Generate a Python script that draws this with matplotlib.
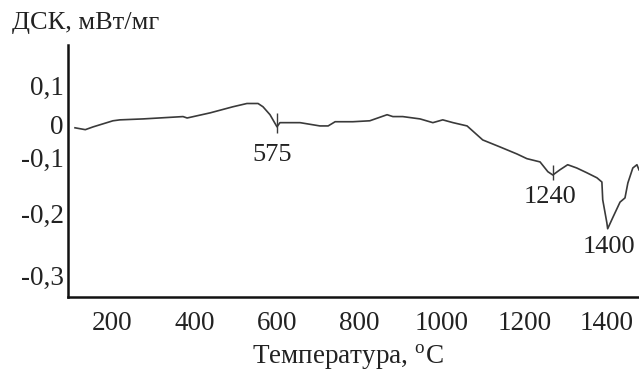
import matplotlib
matplotlib.use("Agg")
from matplotlib import pyplot as plt

# DSC curve (temperature, degC ; signal, mW/mg)
temp = [110, 135, 154, 202, 219, 275, 372, 382, 438, 493, 527, 554, 566, 583,
        600, 607, 624, 656, 704, 724, 741, 784, 825, 867, 881, 905, 947, 978,
        1002, 1027, 1061, 1099, 1141, 1182, 1206, 1238, 1257, 1269, 1286, 1305,
        1327, 1351, 1376, 1388, 1390, 1400, 1402, 1415, 1432, 1444, 1451, 1463,
        1473, 1478]
dsc = [-0.008, -0.012, -0.006, 0.007, 0.009, 0.011, 0.016, 0.013, 0.024, 0.037,
       0.044, 0.044, 0.037, 0.020, -0.006, 0.003, 0.003, 0.003, -0.004, -0.004,
       0.005, 0.005, 0.007, 0.020, 0.016, 0.016, 0.011, 0.003, 0.009, 0.003,
       -0.004, -0.034, -0.049, -0.064, -0.074, -0.081, -0.102, -0.109, -0.098,
       -0.087, -0.094, -0.104, -0.115, -0.124, -0.162, -0.211, -0.224, -0.199,
       -0.167, -0.158, -0.126, -0.094, -0.087, -0.098]

# peak labels and marker strokes
peak_labels = ["575", "1240", "1400"]
peak_label_t = [588, 1262, 1405]
peak_label_v = [-0.066, -0.156, -0.263]
mark_t = [600, 1269]
mark_top = [0.024, -0.087]
mark_bot = [-0.019, -0.119]

xticks = [200, 400, 600, 800, 1000, 1200, 1400]
# the printed y labels sit a little unevenly on the original scan
yticks = [0.082, 0, -0.071, -0.191, -0.324]
ytick_labels = ["0,1", "0", "-0,1", "-0,2", "-0,3"]

plt.rcParams['font.family'] = ['Liberation Serif', 'DejaVu Serif']
plt.rcParams['mathtext.fontset'] = 'custom'
plt.rcParams['mathtext.rm'] = 'Liberation Serif'

fig = plt.figure(figsize=(6.39, 3.71), dpi=100)
ax = fig.add_axes([0.1064, 0.1995, 0.8936, 0.679])

ax.plot(temp, dsc, color='#3a3a3a', lw=1.2)
ax.vlines(mark_t, mark_bot, mark_top, color='#3a3a3a', lw=1.0)
for lab, t, v in zip(peak_labels, peak_label_t, peak_label_v):
	ax.text(t, v, lab, ha='center', va='center', fontsize=19, color='#222222')

ax.set_xlim(93, 1478)
ax.set_ylim(-0.370, 0.169)
ax.set_xticks(xticks)
ax.set_yticks(yticks)
ax.set_yticklabels(ytick_labels)
ax.tick_params(length=0, labelsize=19.5, colors='#222222')
ax.tick_params(axis='x', pad=10)
ax.tick_params(axis='y', pad=3)

for s in ['top', 'right']:
	ax.spines[s].set_visible(False)
for s in ['left', 'bottom']:
	ax.spines[s].set_linewidth(1.8)
	ax.spines[s].set_color('#111111')

fig.text(0.018, 0.938, "ДСК, мВт/мг", fontsize=19, color='#222222', va='center', ha='left')
fig.text(0.545, 0.038, "Температура, $^{\\mathrm{o}}$C", fontsize=19.5, color='#222222', va='center', ha='center')

fig.savefig("out.png", dpi=100)
